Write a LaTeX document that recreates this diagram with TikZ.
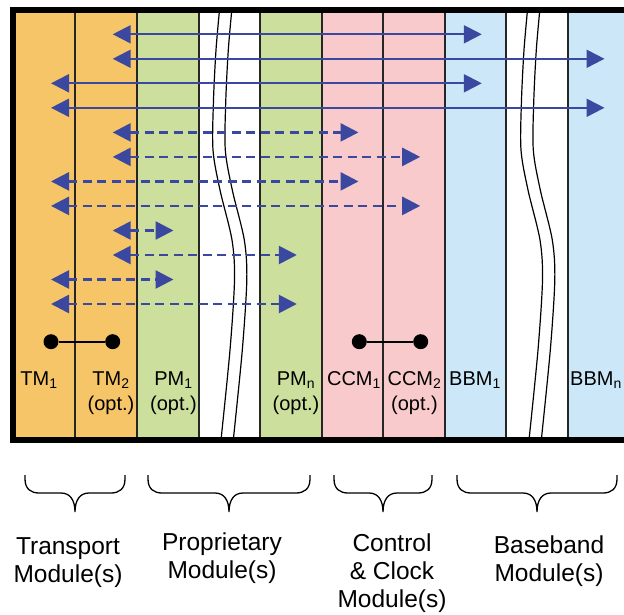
\documentclass[tikz,border=0pt]{standalone}
\usepackage{fontspec}
\setmainfont{Liberation Sans}
\usetikzlibrary{arrows.meta}

\definecolor{tmfill}{HTML}{F6C567}
\definecolor{pmfill}{HTML}{CCDF9D}
\definecolor{ccmfill}{HTML}{F9CACB}
\definecolor{bbmfill}{HTML}{CCE8F8}
\definecolor{busblue}{HTML}{3B48A0}

% the broken-off part of the slot range
\newcommand{\gapwave}[1]{%
  \draw[wave,xshift=#1] plot[smooth] coordinates
    {(219.5,10) (216,50) (213.5,100) (213,150) (220,190) (232,240) (234.5,280) (230,350) (221,440)};}

% curly brace under a group: left end, half width
\newcommand{\modbrace}[2]{%
  \draw[brace] (#1,475) -- ++(0,4)
    .. controls +(0,10) and +(-8,0) .. ++(14,14)
    -- ++({#2-28},0)
    .. controls +(9,0) and +(0,-12) .. ++(14,19)
    .. controls +(0,-12) and +(-9,0) .. ++(14,-19)
    -- ++({#2-28},0)
    .. controls +(8,0) and +(0,10) .. ++(14,-14)
    -- ++(0,-4);}

\begin{document}
\begin{tikzpicture}[x=1pt,y=-1pt,
    bus/.style={busblue,line width=2pt,>={Triangle[length=18pt,width=18pt]},<->},
    dashbus/.style={bus,line width=2.6pt,dash pattern=on 9pt off 5.5pt},
    divider/.style={line width=1.3pt,black!85},
    wave/.style={line width=1.2pt},
    brace/.style={line width=1.3pt},
    dot/.style={circle,fill=black,minimum size=15pt,inner sep=0pt},
    modlabel/.style={anchor=base,align=center,inner sep=0pt,font=\fontsize{20}{24.3}\selectfont},
    grouplabel/.style={anchor=base,align=center,inner sep=0pt,font=\fontsize{24.5}{28}\selectfont}]
  \useasboundingbox (0,0) rectangle (624,615);

  % slot colours
  \fill[tmfill] (13,10) rectangle (137,440);
  \fill[pmfill] (137,10) rectangle (199,440);
  \fill[pmfill] (260,10) rectangle (322,440);
  \fill[ccmfill] (322,10) rectangle (445,440);
  \fill[bbmfill] (445,10) rectangle (506,440);
  \fill[bbmfill] (568,10) rectangle (624,440);

  \draw[divider] (75,10) -- (75,440) (137,10) -- (137,440) (199,10) -- (199,440)
    (260,10) -- (260,440) (322,10) -- (322,440) (383,10) -- (383,440)
    (445,10) -- (445,440) (506,10) -- (506,440) (568,10) -- (568,440);

  \gapwave{0pt}
  \gapwave{12.3pt}
  \gapwave{308pt}
  \gapwave{320.3pt}

  \draw[line width=6pt] (624,10) -- (13,10) -- (13,440) -- (624,440);

  % where the links end in each slot
  \coordinate (tm1) at (51,0);
  \coordinate (tm2) at (112.7,0);
  \coordinate (pm1) at (173.5,0);
  \coordinate (pmn) at (296.8,0);
  \coordinate (ccm1) at (358.5,0);
  \coordinate (ccm2) at (420.2,0);
  \coordinate (bbm1) at (481.8,0);
  \coordinate (bbmn) at (604.5,0);

  \coordinate (r1) at (0,34.3);
  \coordinate (r2) at (0,58.8);
  \coordinate (r3) at (0,83.3);
  \coordinate (r4) at (0,107.8);
  \coordinate (r5) at (0,132.4);
  \coordinate (r6) at (0,156.9);
  \coordinate (r7) at (0,181.4);
  \coordinate (r8) at (0,205.9);
  \coordinate (r9) at (0,230.5);
  \coordinate (r10) at (0,255);
  \coordinate (r11) at (0,279.5);
  \coordinate (r12) at (0,304);

  % transport to baseband
  \draw[bus] (tm2 |- r1) -- (bbm1 |- r1);
  \draw[bus] (tm2 |- r2) -- (bbmn |- r2);
  \draw[bus] (tm1 |- r3) -- (bbm1 |- r3);
  \draw[bus] (tm1 |- r4) -- (bbmn |- r4);
  % transport to control & clock
  \draw[dashbus] (tm2 |- r5) -- (ccm1 |- r5);
  \draw[dashbus] (tm2 |- r6) -- (ccm2 |- r6);
  \draw[dashbus] (tm1 |- r7) -- (ccm1 |- r7);
  \draw[dashbus] (tm1 |- r8) -- (ccm2 |- r8);
  % transport to proprietary
  \draw[dashbus] (tm2 |- r9) -- (pm1 |- r9);
  \draw[dashbus] (tm2 |- r10) -- (pmn |- r10);
  \draw[dashbus] (tm1 |- r11) -- (pm1 |- r11);
  \draw[dashbus] (tm1 |- r12) -- (pmn |- r12);

  % redundancy pairs
  \node[dot] (tm1-dot) at (51,341.7) {};
  \node[dot] (tm2-dot) at (112.7,341.7) {};
  \node[dot] (ccm1-dot) at (359.3,341.7) {};
  \node[dot] (ccm2-dot) at (420.7,341.7) {};
  \draw[line width=2pt] (tm1-dot) -- (tm2-dot);
  \draw[line width=2pt] (ccm1-dot) -- (ccm2-dot);

  % base is the last line of a label
  \node[modlabel] (tm1-lbl) at (39,385.7) {TM\textsubscript{1}};
  \node[modlabel] (tm2-lbl) at (111,410) {TM\textsubscript{2}\\(opt.)};
  \node[modlabel] (pm1-lbl) at (173.5,410) {PM\textsubscript{1}\\(opt.)};
  \node[modlabel] (pmn-lbl) at (296,410) {PM\textsubscript{n}\\(opt.)};
  \node[modlabel] (ccm1-lbl) at (354,385.7) {CCM\textsubscript{1}};
  \node[modlabel] (ccm2-lbl) at (414.5,410) {CCM\textsubscript{2}\\(opt.)};
  \node[modlabel] (bbm1-lbl) at (475,385.7) {BBM\textsubscript{1}};
  \node[modlabel] (bbmn-lbl) at (596,385.7) {BBM\textsubscript{n}};

  \modbrace{25}{50}
  \modbrace{148}{81}
  \modbrace{334}{49}
  \modbrace{457}{80}

  \node[grouplabel] (transport) at (68,582) {Transport\\Module(s)};
  \node[grouplabel] (proprietary) at (222,578.5) {Proprietary\\Module(s)};
  \node[grouplabel] (control) at (392,607) {Control\\\& Clock\\Module(s)};
  \node[grouplabel] (baseband) at (549,581.5) {Baseband\\Module(s)};
\end{tikzpicture}
\end{document}
